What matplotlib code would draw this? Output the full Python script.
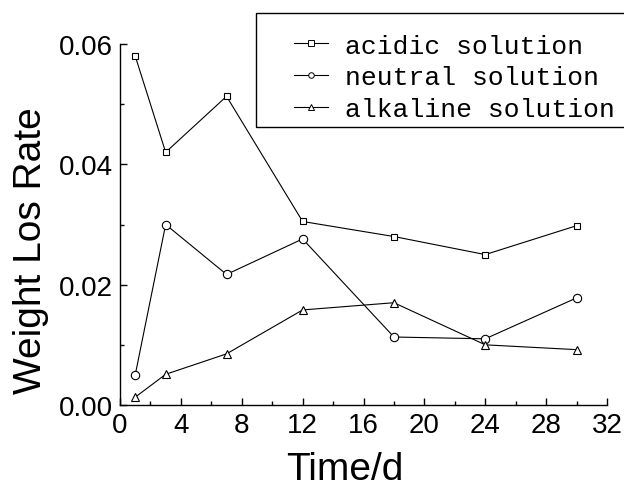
import matplotlib
matplotlib.use('Agg')
import matplotlib.pyplot as plt
from matplotlib.lines import Line2D
from matplotlib.patches import Rectangle
from matplotlib.ticker import MultipleLocator

days = [1, 3, 7, 12, 18, 24, 30]
acidic = [0.0580, 0.0420, 0.0513, 0.0305, 0.0280, 0.0250, 0.0298]
neutral = [0.0050, 0.0300, 0.0217, 0.0276, 0.0113, 0.0110, 0.0178]
alkaline = [0.0013, 0.0051, 0.0085, 0.0158, 0.0170, 0.0100, 0.0092]
labels = ['acidic solution', 'neutral solution', 'alkaline solution']
markers = ['s', 'o', '^']

plt.rcParams['font.family'] = 'Liberation Sans'

fig = plt.figure(figsize=(6.24, 4.89), dpi=100)
ax = fig.add_axes([120/624, 1-406/489, 487/624, 361/489])

for y, m in zip([acidic, neutral, alkaline], markers):
    ax.plot(days, y, color='black', lw=0.8, marker=m, markersize=6 if m != 's' else 5,
            markerfacecolor='white', markeredgecolor='black', markeredgewidth=0.8)

ax.set_xlim(0, 32)
ax.set_ylim(0, 0.06)
ax.xaxis.set_major_locator(MultipleLocator(4))
ax.xaxis.set_minor_locator(MultipleLocator(2))
ax.yaxis.set_major_locator(MultipleLocator(0.02))
ax.yaxis.set_minor_locator(MultipleLocator(0.01))
ax.yaxis.set_major_formatter(plt.FormatStrFormatter('%.2f'))
ax.spines['top'].set_visible(False)
ax.spines['right'].set_visible(False)
for s in ['left', 'bottom']:
    ax.spines[s].set_linewidth(1.0)
ax.tick_params(which='major', direction='in', length=5, width=1, labelsize=20, pad=5)
ax.tick_params(which='minor', direction='in', length=3, width=1)
ax.set_xlabel('Time/d', fontsize=28)
ax.set_ylabel('Weight Los Rate', fontsize=28)
ax.xaxis.set_label_coords(0.462, -0.128)
ax.yaxis.set_label_coords(-0.145, 0.43)

# legend, box drawn separately so it runs off the right edge like the original
handles = [Line2D([], [], color='black', lw=0.8, marker=m, markersize=4,
                  markerfacecolor='white', markeredgecolor='black', markeredgewidth=0.7)
           for m in markers]
fig.legend(handles, labels, loc='upper left', bbox_to_anchor=(297/624 - 0.005, 1-34.5/489),
           frameon=False, prop={'family': 'Liberation Mono', 'size': 19},
           handlelength=1.3, handletextpad=0.65, labelspacing=0.3, borderpad=0, borderaxespad=0)
fig.patches.append(Rectangle((256/624, 1-128/489), 0.7, 114/489, transform=fig.transFigure,
                             fill=False, edgecolor='black', lw=1.0))

fig.savefig('out.png', dpi=100)
